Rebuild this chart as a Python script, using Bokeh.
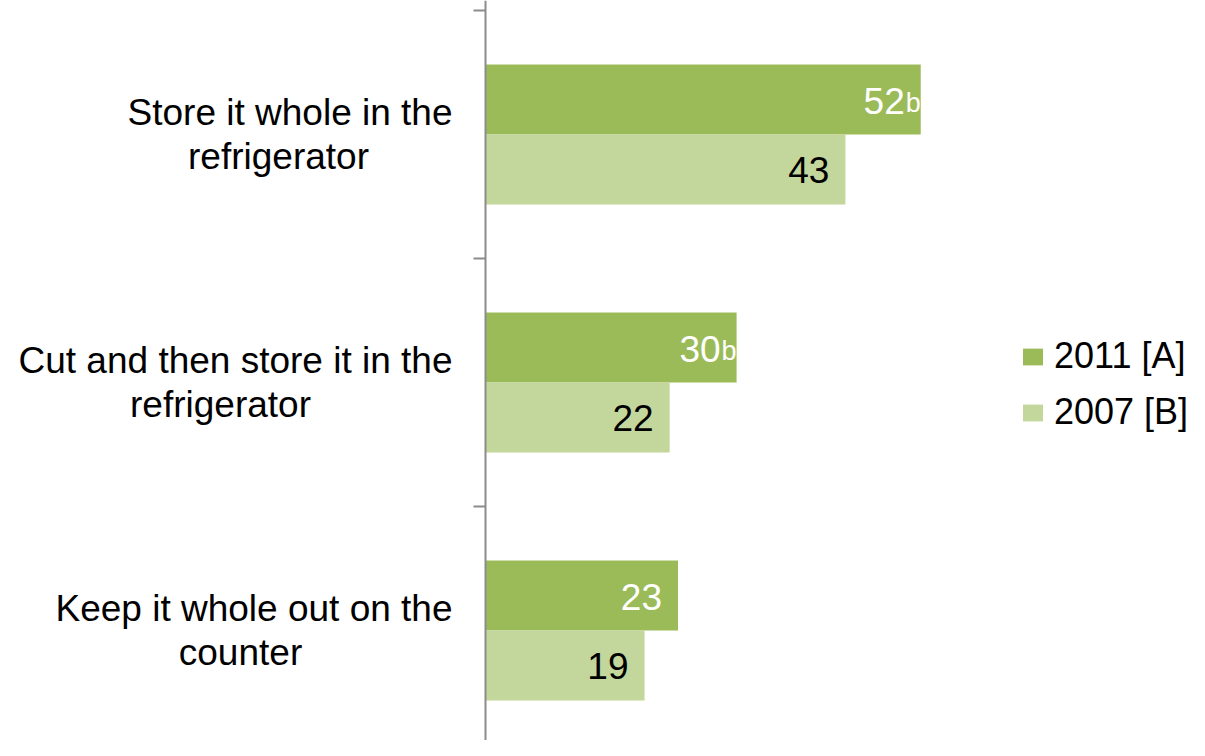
from bokeh.plotting import figure
from bokeh.models import ColumnDataSource, FixedTicker, Legend, LegendItem, Range1d
from bokeh.core.properties import value
from bokeh.embed import file_html
from bokeh.resources import INLINE

# ---------------- data ----------------
categories = ["Store it whole in the refrigerator",
              "Cut and then store it in the refrigerator",
              "Keep it whole out on the counter"]
label_line1 = ["Store it whole in the", "Cut and then store it in the", "Keep it whole out on the"]
label_line2 = ["refrigerator", "refrigerator", "counter"]
series_names = ["2011 [A]", "2007 [B]"]
values_2011 = [52, 30, 23]
values_2007 = [43, 22, 19]
sig_2011 = ["b", "b", ""]

# ---------------- styles ----------------
DARK = "#9BBB59"
LIGHT = "#C3D69B"
FONT = "Liberation Sans"
AXIS_COL = "#8c8c8c"
line2_offsets = [-207, -265, -245]   # px, centre of second label line relative to axis
BAR_H = 0.282
DODGE = 0.141
W, H = 1189, 740
AXIS_PX = 485          # screen x of value 0
PX_PER_UNIT = 8.37
BAND_PX = 248
TOP_PX = 10

n = len(categories)
centers = [n - 1 - i for i in range(n)]

src_a = ColumnDataSource(dict(
    y=[c + DODGE for c in centers], v=values_2011,
    t=[str(v) for v in values_2011]))
sig_idx = [i for i, s in enumerate(sig_2011) if s]
src_sig = ColumnDataSource(dict(
    y=[centers[i] + DODGE for i in sig_idx], v=[values_2011[i] for i in sig_idx],
    s=[sig_2011[i] for i in sig_idx]))
src_b = ColumnDataSource(dict(
    y=[c - DODGE for c in centers], v=values_2007,
    t=[str(v) for v in values_2007]))
src_lab = ColumnDataSource(dict(
    y=centers, l1=label_line1, l2=label_line2, off2=line2_offsets, x0=[0] * n))

top_val = (n - 0.5) + TOP_PX / BAND_PX
bot_val = (n - 0.5) - (H - TOP_PX) / BAND_PX
p = figure(width=W, height=H, output_backend="svg", toolbar_location=None,
           x_range=Range1d(-AXIS_PX / PX_PER_UNIT, (W - AXIS_PX) / PX_PER_UNIT),
           y_range=Range1d(bot_val, top_val),
           min_border=0, min_border_left=0, min_border_right=0,
           min_border_top=0, min_border_bottom=0,
           x_axis_location=None, outline_line_color=None)
p.grid.visible = False
p.background_fill_color = "white"

ax = p.yaxis[0]
ax.fixed_location = 0
ax.ticker = FixedTicker(ticks=[], minor_ticks=[c + 0.5 for c in centers] + [-0.5])
ax.major_tick_line_color = None
ax.minor_tick_in = 0
ax.minor_tick_out = 12
ax.axis_line_color = AXIS_COL
ax.minor_tick_line_color = AXIS_COL
ax.axis_line_width = 2
ax.minor_tick_line_width = 2

ra = p.hbar(y="y", right="v", left=0, height=BAR_H, source=src_a,
            fill_color=DARK, line_color=None)
rb = p.hbar(y="y", right="v", left=0, height=BAR_H, source=src_b,
            fill_color=LIGHT, line_color=None)

# value labels
p.text(x="v", y="y", text="t", source=src_a, x_offset=-16, y_offset=1,
       text_align="right", text_baseline="middle", text_color="white",
       text_font=value(FONT), text_font_size="37px")
p.text(x="v", y="y", text="s", source=src_sig, x_offset=-15, y_offset=3,
       text_align="left", text_baseline="middle", text_color="white",
       text_font=value(FONT), text_font_size="27px")
p.text(x="v", y="y", text="t", source=src_b, x_offset=-16, y_offset=1,
       text_align="right", text_baseline="middle", text_color="black",
       text_font=value(FONT), text_font_size="37px")

# category labels
p.text(x="x0", y="y", text="l1", source=src_lab, x_offset=-33, y_offset=-22,
       text_align="right", text_baseline="middle", text_color="black",
       text_font=value(FONT), text_font_size="37px")
p.text(x="x0", y="y", text="l2", source=src_lab, x_offset="off2", y_offset=22,
       text_align="center", text_baseline="middle", text_color="black",
       text_font=value(FONT), text_font_size="37px")

legend = Legend(items=[LegendItem(label=series_names[0], renderers=[ra]),
                       LegendItem(label=series_names[1], renderers=[rb])],
                location=(1020, 307), orientation="vertical",
                border_line_color=None, background_fill_alpha=0,
                padding=0, margin=0, spacing=14,
                glyph_width=25, glyph_height=21, label_standoff=9,
                label_text_font=FONT, label_text_font_size="36px",
                label_text_color="black")
p.add_layout(legend)

open("out.html", "w").write(file_html(p, INLINE))
